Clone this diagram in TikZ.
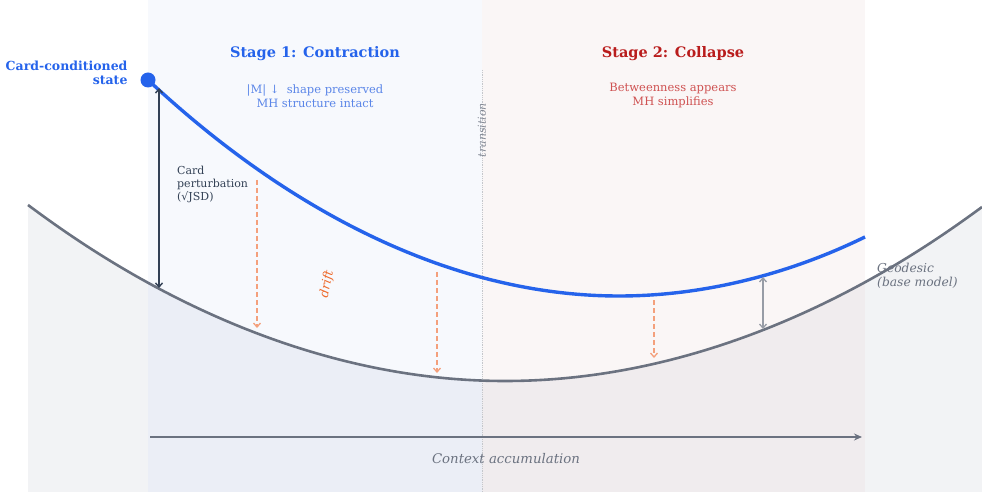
\documentclass[tikz,border=0pt]{standalone}
\usepackage{fontspec}
\setmainfont{DejaVu Serif}
\usetikzlibrary{arrows.meta}
\definecolor{stageblue}{HTML}{2563EB}
\definecolor{stagered}{HTML}{B91C1C}
\definecolor{softblue}{HTML}{5B86E8}
\definecolor{softred}{HTML}{CF5252}
\definecolor{geogray}{HTML}{6B7280}
\definecolor{navy}{HTML}{334155}
\definecolor{salmon}{HTML}{F4A07C}
\definecolor{driftorange}{HTML}{EE6A2C}
\definecolor{bandone}{HTML}{F7F9FD}
\definecolor{bandtwo}{HTML}{FAF6F6}
\definecolor{lowout}{HTML}{F2F3F5}
\definecolor{lowone}{HTML}{EBEEF6}
\definecolor{lowtwo}{HTML}{F0ECEE}
\newcommand{\fsize}[2]{\fontsize{#1}{#2}\selectfont}
\newcommand{\driftarrow}[2]{
	\draw[drift] (#1) -- (#2);
}

\begin{document}
\begin{tikzpicture}[x=1pt,y=-1pt,
	title/.style={font=\fsize{14.5}{17}\bfseries},
	sub/.style={font=\fsize{11.5}{14}, align=center},
	drift/.style={salmon, line width=1.3pt, dash pattern=on 5pt off 3pt, -{Straight Barb[length=4pt,width=7pt]}},
	barb/.style={{Straight Barb[length=4pt,width=7pt]}-{Straight Barb[length=4pt,width=7pt]}}]
	\useasboundingbox (0,0) rectangle (982,494);

	% the two stages
	\fill[bandone] (148,0) rectangle (482,492);
	\fill[bandtwo] (482,0) rectangle (865,492);
	\begin{scope}
		\clip (28,205) parabola bend (505,381) (982,207) -- (982,492) -- (28,492) -- cycle;
		\fill[lowout] (28,200) rectangle (982,492);
		\fill[lowone] (148,200) rectangle (482,492);
		\fill[lowtwo] (482,200) rectangle (865,492);
	\end{scope}
	\draw[geogray!40, densely dotted, line width=0.8pt] (482,70) -- (482,492);
	\node[rotate=90, text=geogray!85, font=\fsize{11}{13}\itshape] (trans) at (482,130) {transition};

	% base model and conditioned trajectory
	\draw[geogray, line width=2.6pt] (28,205) parabola bend (505,381) (982,207);
	\draw[stageblue, line width=3.4pt] (148,80) parabola bend (619,296) (865,237);
	\node[circle, fill=stageblue, inner sep=0pt, minimum size=15pt] (start) at (148,80) {};
	\node[anchor=east, align=right, text=stageblue, font=\fsize{12.5}{14}\bfseries] (state) at (131,73) {Card-conditioned\\state};

	\coordinate (pt) at (159,88);
	\coordinate (pb) at (159,288);
	\draw[navy, line width=1.4pt, barb] (pt) -- (pb);
	\node[anchor=north west, align=left, text=navy, font=\fsize{11}{13}, inner sep=0pt] (pert) at (177,166) {Card\\perturbation\\(√JSD)};

	\coordinate (d1) at (257,180);
	\coordinate (e1) at (257,328);
	\coordinate (d2) at (437,272);
	\coordinate (e2) at (437,373);
	\coordinate (d3) at (654,300);
	\coordinate (e3) at (654,358);
	\driftarrow{d1}{e1}
	\driftarrow{d2}{e2}
	\driftarrow{d3}{e3}
	\node[rotate=78, text=driftorange, font=\fsize{12.5}{14}\itshape] (drift) at (327,284) {drift};

	\coordinate (gt) at (763,277);
	\coordinate (gb) at (763,329);
	\draw[geogray!70, line width=1.3pt, barb] (gt) -- (gb);
	\node[anchor=west, align=left, text=geogray, font=\fsize{12.3}{14}\itshape, inner sep=0pt] (geo) at (877,276) {Geodesic\\(base model)};

	% stage labels
	\node[title, text=stageblue] (s1) at (315,54) {Stage 1: Contraction};
	\node[sub, text=softblue] (s1sub) at (315,96) {|M| ↓\ \ shape preserved\\MH structure intact};
	\node[title, text=stagered] (s2) at (673,54) {Stage 2: Collapse};
	\node[sub, text=softred] (s2sub) at (673,96) {Betweenness appears\\MH simplifies};

	% context axis
	\coordinate (ax0) at (150,437);
	\coordinate (ax1) at (862,437);
	\draw[geogray, line width=2.2pt, -{Stealth[length=8pt,width=7pt]}] (ax0) -- (ax1);
	\node[text=geogray, font=\fsize{13.3}{15}\itshape] (ctx) at (506,459) {Context accumulation};
\end{tikzpicture}
\end{document}
